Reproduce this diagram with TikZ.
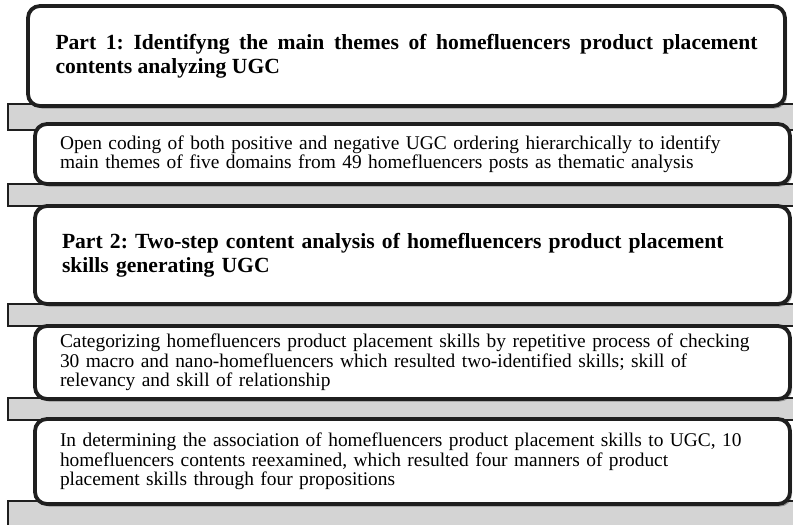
\documentclass[tikz,border=0pt]{standalone}
\usepackage{fontspec}
\setmainfont{Liberation Serif}
\usetikzlibrary{shadows}
\frenchspacing
\tikzset{
  strip/.style={draw=black!88, line width=2.5pt, fill=black!17},
  panel/.style={draw=black!88, line width=3.8pt, fill=white, rounded corners=12pt,
    minimum width=755pt, inner xsep=0pt, text width=702pt,
    drop shadow={shadow xshift=2pt, shadow yshift=-2.5pt, opacity=0.3, fill=black}},
  head/.style={panel, align=justify, font=\fontsize{21.6}{24}\selectfont\bfseries},
  body/.style={panel, align=left, font=\fontsize{19.4}{19.3}\selectfont},
}
\begin{document}
\begin{tikzpicture}[x=1pt, y=-1pt]
\clip (0,0) rectangle (793,525);
\fill[white] (0,0) rectangle (793,525);
\draw[strip] (8,104) rectangle (810,130);
\draw[strip] (8,184) rectangle (810,206);
\draw[strip] (8,304) rectangle (810,326);
\draw[strip] (8,398) rectangle (810,420);
\draw[strip] (8,501) rectangle (810,540);
\node[head, minimum width=757pt, minimum height=100pt] (p1) at (406.5,56) {Part 1: Identifyng the main themes of homefluencers product placement\linebreak contents analyzing UGC};
\node[body, minimum height=60pt, text width=705pt] (s1) at (412.5,154) {Open coding of both positive and negative UGC ordering hierarchically to identify\\main themes of five domains from 49 homefluencers posts as thematic analysis};
\node[head, align=left, minimum height=98pt, text width=701pt] (p2) at (412.5,255) {Part 2: Two-step content analysis of homefluencers product placement\\skills generating UGC};
\node[body, minimum height=73pt, text width=705pt] (s2) at (412.5,362.5) {Categorizing homefluencers product placement skills by repetitive process of checking\\30 macro and nano-homefluencers which resulted two-identified skills; skill of\\relevancy and skill of relationship};
\node[body, minimum height=85pt, text width=705pt] (s3) at (412.5,461.5) {In determining the association of homefluencers product placement skills to UGC, 10\\homefluencers contents reexamined, which resulted four manners of product\\placement skills through four propositions};
\end{tikzpicture}
\end{document}
